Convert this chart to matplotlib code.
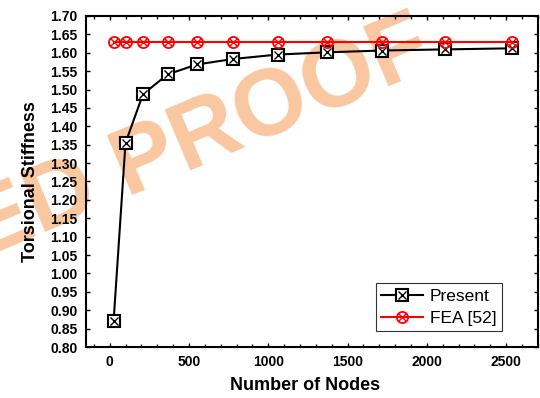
import matplotlib.pyplot as plt
import numpy as np
from matplotlib.legend_handler import HandlerTuple
from matplotlib.ticker import MultipleLocator

plt.rcParams.update({'font.family': 'Liberation Sans', 'font.size': 10})

nodes = [25, 100, 210, 365, 550, 780, 1060, 1370, 1720, 2115, 2540]
present = [0.871, 1.355, 1.487, 1.541, 1.568, 1.583, 1.595, 1.601, 1.606, 1.609, 1.612]
fea = [1.63] * len(nodes)

fig = plt.figure(figsize=(5.4, 3.98), dpi=100)
ax = fig.add_axes([0.159, 0.128, 0.837, 0.832])
ax.set_facecolor('none')

# watermark behind the axes
fig.text(0.37, 0.648, 'ED PROOF', fontsize=68, fontweight='bold', color='#F9C7A0',
         rotation=23, ha='center', va='center', zorder=-1)

l1, = ax.plot(nodes, present, 'k-', lw=1.5, marker='s', ms=8, mfc='white', mec='k', mew=1.5)
m1, = ax.plot(nodes, present, ls='none', marker='x', ms=6, mec='k', mew=1.0)
l2, = ax.plot(nodes, fea, 'r-', lw=1.5, marker='o', ms=8, mfc='none', mec='r', mew=1.3, zorder=3)
m2, = ax.plot(nodes, fea, ls='none', marker='x', ms=6, mec='r', mew=1.0, zorder=3)

ax.set_xlim(-150, 2700)
ax.set_ylim(0.80, 1.70)
ax.xaxis.set_major_locator(MultipleLocator(500))
ax.xaxis.set_minor_locator(MultipleLocator(100))
ax.yaxis.set_major_locator(MultipleLocator(0.05))
ax.yaxis.set_major_formatter(plt.FormatStrFormatter('%.2f'))
ax.tick_params(which='both', direction='in', top=True, right=True, width=1)
ax.tick_params(which='major', length=3, labelsize=10, pad=6)
ax.tick_params(which='minor', length=2)
for t in ax.get_xticklabels() + ax.get_yticklabels():
    t.set_fontweight('bold')
for s in ax.spines.values():
    s.set_linewidth(1.5)

ax.set_xlabel('Number of Nodes', fontsize=13, fontweight='bold', labelpad=7)
ax.xaxis.set_label_coords(0.485, -0.09)
ax.set_ylabel('Torsional Stiffness', fontsize=13, fontweight='bold', labelpad=8)

leg = ax.legend([(l1, m1), (l2, m2)], ['Present', 'FEA [52]'],
                handler_map={tuple: HandlerTuple(ndivide=1)},
                loc='lower right', bbox_to_anchor=(0.92, 0.048), fontsize=12.5,
                frameon=True, fancybox=False, edgecolor='k', handlelength=2.4,
                borderpad=0.3, labelspacing=0.4, handletextpad=0.4, borderaxespad=0)
leg.get_frame().set_linewidth(0.8)

fig.savefig('out.png', dpi=100)
